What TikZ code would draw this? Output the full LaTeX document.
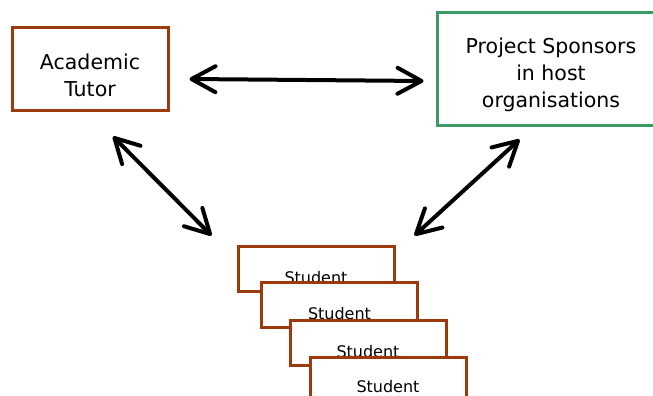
\documentclass[tikz,border=0pt]{standalone}
\usepackage{fontspec}
\setmainfont{DejaVu Sans}
\usetikzlibrary{arrows.meta,calc}
\definecolor{tutorbrown}{HTML}{9C3A0E}
\definecolor{sponsorgreen}{HTML}{3C9A64}
\begin{document}
\begin{tikzpicture}[x=1pt,y=-1pt,
  bigbox/.style={draw, line width=3pt, fill=white, inner sep=0pt},
  bigtext/.style={inner sep=0pt, font=\fontsize{20.5}{27}\selectfont, align=center},
  studbox/.style={draw=tutorbrown, line width=3pt, fill=white, minimum width=156pt, minimum height=45pt, inner sep=0pt},
  studtext/.style={font=\fontsize{16}{19}\selectfont, anchor=base, inner sep=0pt},
  link/.style={line width=4pt, {Straight Barb[length=24pt,width=26pt,line cap=round,line join=round]}-{Straight Barb[length=24pt,width=26pt,line cap=round,line join=round]}, line cap=round}]
\useasboundingbox (0,0) rectangle (653,396);
\node[bigbox, draw=tutorbrown, minimum width=156pt, minimum height=82pt] (tutor) at (90,69) {};
\node[bigtext] (tutortext) at ($(tutor.center)+(0,6)$) {Academic\\Tutor};
\node[bigbox, draw=sponsorgreen, minimum width=228pt, minimum height=112pt] (sponsor) at (551,69) {};
\node[bigtext] (sponsortext) at ($(sponsor.center)+(0,6)$) {Project Sponsors\\in host\\organisations};
\node[studbox] (s1) at (316,268.5) {};
\node[studtext] (t1) at (316,283) {Student};
\node[studbox] (s2) at (339.5,305) {};
\node[studtext] (t2) at (339.5,319) {Student};
\node[studbox] (s3) at (368,343) {};
\node[studtext] (t3) at (368,357) {Student};
\node[studbox] (s4) at (388,379.5) {};
\node[studtext] (t4) at (388,392) {Student};
\draw[link] ($(tutor.east)+(20,10)$) -- ($(sponsor.west)+(-12,12)$);
\draw[link] ($(tutor.south)+(23,25)$) -- ($(s1.north west)+(-25,-9)$);
\draw[link] ($(sponsor.south west)+(84,13)$) -- ($(s1.north east)+(19,-9)$);
\end{tikzpicture}
\end{document}
